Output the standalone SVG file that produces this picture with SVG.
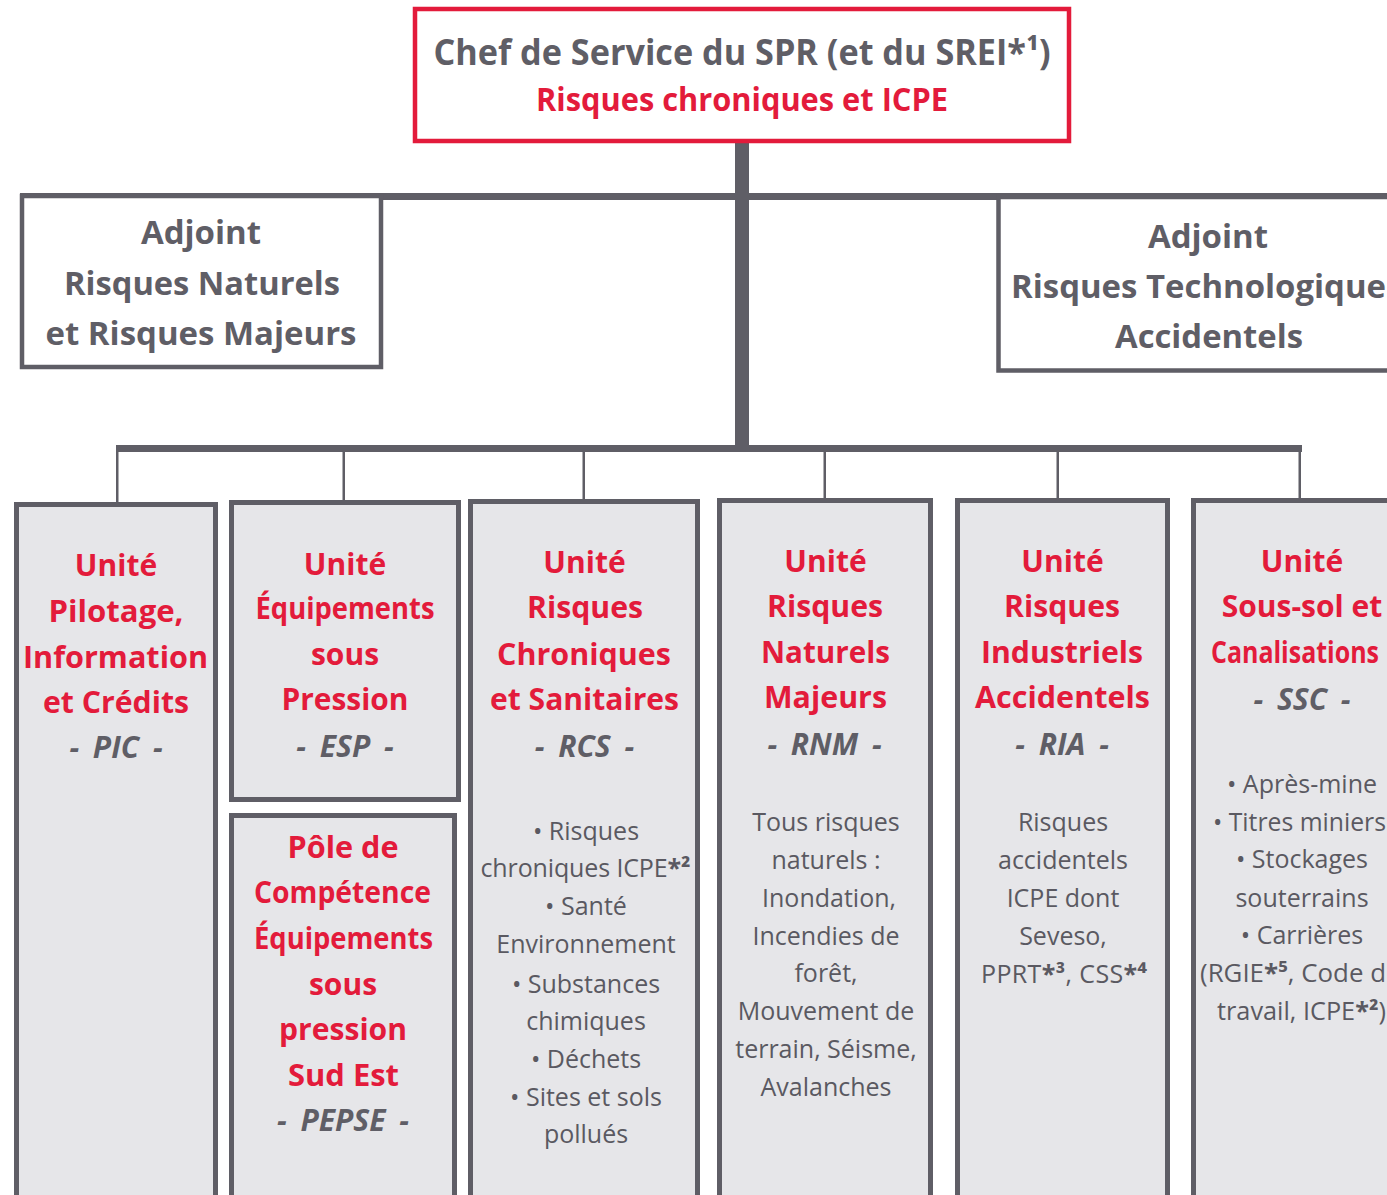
<svg xmlns="http://www.w3.org/2000/svg" width="1387" height="1195" viewBox="0 0 1387 1195">
<style>
text{font-family:"Open Sans","Noto Sans","DejaVu Sans",sans-serif;text-anchor:middle}
.hd{font-weight:700;fill:#5f5e66}
.rd{font-weight:700;fill:#e31b3b}
.t{font-weight:700;font-size:30px;fill:#e31b3b}
.code{font-weight:700;font-style:italic;font-size:30px;fill:#5f5e66;word-spacing:6px}
.b{font-size:25px;fill:#5a5961}
.st{text-anchor:start}
.adj{font-weight:700;font-size:33px;fill:#5f5e66}
.unit{fill:#e6e6e9;stroke:#5f5e66;stroke-width:5}
.box{fill:#ffffff;stroke:#5f5e66;stroke-width:4.5}
.line{fill:#5f5e66}
.ast{font-weight:700}
</style>
<rect width="1387" height="1195" fill="#ffffff"/>
<g id="connectors">
<rect class="line" x="20" y="193" width="1367" height="7"/>
<rect class="line" x="735" y="140" width="14" height="310"/>
<rect class="line" x="116" y="445" width="1186" height="7"/>
<rect class="line" x="116" y="450" width="2.5" height="53"/>
<rect class="line" x="342.5" y="450" width="2.5" height="53"/>
<rect class="line" x="582.5" y="450" width="2.5" height="52"/>
<rect class="line" x="823.5" y="450" width="2.5" height="51"/>
<rect class="line" x="1056.5" y="450" width="2.5" height="51"/>
<rect class="line" x="1298.5" y="450" width="2.5" height="51"/>
</g>
<g id="chef">
<rect x="415" y="9" width="654" height="132" fill="#ffffff" stroke="#e31b3b" stroke-width="4.5"/>
<text class="hd" x="742" y="65" font-size="35" textLength="617" lengthAdjust="spacingAndGlyphs">Chef de Service du SPR (et du SREI*¹)</text>
<text class="rd" x="742" y="111" font-size="33" textLength="412" lengthAdjust="spacingAndGlyphs">Risques chroniques et ICPE</text>
</g>
<g id="adjoint-rn">
<rect class="box" x="22" y="196" width="359" height="171"/>
<text class="adj" x="201" y="244">Adjoint</text>
<text class="adj" x="202" y="295" textLength="276" lengthAdjust="spacingAndGlyphs">Risques Naturels</text>
<text class="adj" x="201" y="345" textLength="311" lengthAdjust="spacingAndGlyphs">et Risques Majeurs</text>
</g>
<g id="adjoint-rt">
<rect class="box" x="998.5" y="197" width="420" height="173.5" stroke-width="5"/>
<text class="adj" x="1208" y="248">Adjoint</text>
<text class="adj st" x="1011" y="298" textLength="375" lengthAdjust="spacingAndGlyphs">Risques Technologique</text>
<text class="adj" x="1209" y="348" textLength="188" lengthAdjust="spacingAndGlyphs">Accidentels</text>
</g>
<g id="pic">
<rect class="unit" x="16.5" y="504.5" width="199" height="720"/>
<text class="t" x="116" y="576">Unité</text>
<text class="t" x="116" y="622" textLength="135" lengthAdjust="spacingAndGlyphs">Pilotage,</text>
<text class="t" x="115.5" y="668" textLength="185" lengthAdjust="spacingAndGlyphs">Information</text>
<text class="t" x="116" y="713" textLength="146" lengthAdjust="spacingAndGlyphs">et Crédits</text>
<text class="code" x="116" y="758">- PIC -</text>
</g>
<g id="esp">
<rect class="unit" x="231.5" y="502.5" width="227" height="297"/>
<text class="t" x="345" y="575">Unité</text>
<text class="t" x="345" y="619" textLength="179" lengthAdjust="spacingAndGlyphs">Équipements</text>
<text class="t" x="345" y="665">sous</text>
<text class="t" x="345" y="710" textLength="127" lengthAdjust="spacingAndGlyphs">Pression</text>
<text class="code" x="345" y="757">- ESP -</text>
</g>
<g id="pepse">
<rect class="unit" x="231.5" y="815.5" width="223" height="400"/>
<text class="t" x="343" y="858" textLength="111" lengthAdjust="spacingAndGlyphs">Pôle de</text>
<text class="t" x="342.5" y="903" textLength="177" lengthAdjust="spacingAndGlyphs">Compétence</text>
<text class="t" x="343.5" y="949" textLength="179" lengthAdjust="spacingAndGlyphs">Équipements</text>
<text class="t" x="343" y="995">sous</text>
<text class="t" x="343" y="1040" textLength="128" lengthAdjust="spacingAndGlyphs">pression</text>
<text class="t" x="343.5" y="1086" textLength="111" lengthAdjust="spacingAndGlyphs">Sud Est</text>
<text class="code" x="343" y="1131">- PEPSE -</text>
</g>
<g id="rcs">
<rect class="unit" x="470.5" y="501.5" width="227" height="720"/>
<text class="t" x="584.5" y="573">Unité</text>
<text class="t" x="585" y="618" textLength="116" lengthAdjust="spacingAndGlyphs">Risques</text>
<text class="t" x="584" y="665" textLength="174" lengthAdjust="spacingAndGlyphs">Chroniques</text>
<text class="t" x="584.5" y="710" textLength="189" lengthAdjust="spacingAndGlyphs">et Sanitaires</text>
<text class="code" x="584.5" y="757">- RCS -</text>
<text class="b" x="586" y="840">• Risques</text>
<text class="b" x="585.5" y="877" textLength="210" lengthAdjust="spacing">chroniques ICPE<tspan class="ast">*²</tspan></text>
<text class="b" x="586" y="915">• Santé</text>
<text class="b" x="586" y="953">Environnement</text>
<text class="b" x="586" y="993">• Substances</text>
<text class="b" x="586" y="1030">chimiques</text>
<text class="b" x="586" y="1068">• Déchets</text>
<text class="b" x="586" y="1106">• Sites et sols</text>
<text class="b" x="586" y="1143">pollués</text>
</g>
<g id="rnm">
<rect class="unit" x="719.5" y="500.5" width="211" height="720"/>
<text class="t" x="825.5" y="572">Unité</text>
<text class="t" x="825" y="617" textLength="116" lengthAdjust="spacingAndGlyphs">Risques</text>
<text class="t" x="825.5" y="663" textLength="129" lengthAdjust="spacingAndGlyphs">Naturels</text>
<text class="t" x="825.5" y="708" textLength="123" lengthAdjust="spacingAndGlyphs">Majeurs</text>
<text class="code" x="824.5" y="755">- RNM -</text>
<text class="b" x="826" y="831">Tous risques</text>
<text class="b" x="826" y="869">naturels :</text>
<text class="b" x="829" y="907">Inondation,</text>
<text class="b" x="826" y="945">Incendies de</text>
<text class="b" x="826" y="982">forêt,</text>
<text class="b" x="826" y="1020">Mouvement de</text>
<text class="b" x="826" y="1058">terrain, Séisme,</text>
<text class="b" x="826" y="1096">Avalanches</text>
</g>
<g id="ria">
<rect class="unit" x="957.5" y="500.5" width="210" height="720"/>
<text class="t" x="1062.5" y="572">Unité</text>
<text class="t" x="1062" y="617" textLength="116" lengthAdjust="spacingAndGlyphs">Risques</text>
<text class="t" x="1062" y="663" textLength="162" lengthAdjust="spacingAndGlyphs">Industriels</text>
<text class="t" x="1062.5" y="708" textLength="175" lengthAdjust="spacingAndGlyphs">Accidentels</text>
<text class="code" x="1062" y="755">- RIA -</text>
<text class="b" x="1063" y="831">Risques</text>
<text class="b" x="1063" y="869">accidentels</text>
<text class="b" x="1063" y="907">ICPE dont</text>
<text class="b" x="1063" y="945">Seveso,</text>
<text class="b" x="1064" y="983" textLength="166" lengthAdjust="spacing">PPRT<tspan class="ast">*³</tspan>, CSS<tspan class="ast">*⁴</tspan></text>
</g>
<g id="ssc">
<rect class="unit" x="1193.5" y="500.5" width="250" height="720"/>
<text class="t" x="1302" y="572">Unité</text>
<text class="t" x="1302" y="617">Sous-sol et</text>
<text class="t st" x="1211" y="663" textLength="168" lengthAdjust="spacingAndGlyphs">Canalisations</text>
<text class="code" x="1302" y="710">- SSC -</text>
<text class="b" x="1302" y="793">• Après-mine</text>
<text class="b st" x="1213" y="831" textLength="173" lengthAdjust="spacingAndGlyphs">• Titres miniers</text>
<text class="b" x="1302" y="868">• Stockages</text>
<text class="b" x="1302" y="907">souterrains</text>
<text class="b" x="1302" y="944">• Carrières</text>
<text class="b st" x="1200" y="982" textLength="186" lengthAdjust="spacingAndGlyphs">(RGIE<tspan class="ast">*⁵</tspan>, Code d</text>
<text class="b st" x="1217" y="1020" textLength="169" lengthAdjust="spacingAndGlyphs">travail, ICPE<tspan class="ast">*²</tspan>)</text>
</g>
</svg>
